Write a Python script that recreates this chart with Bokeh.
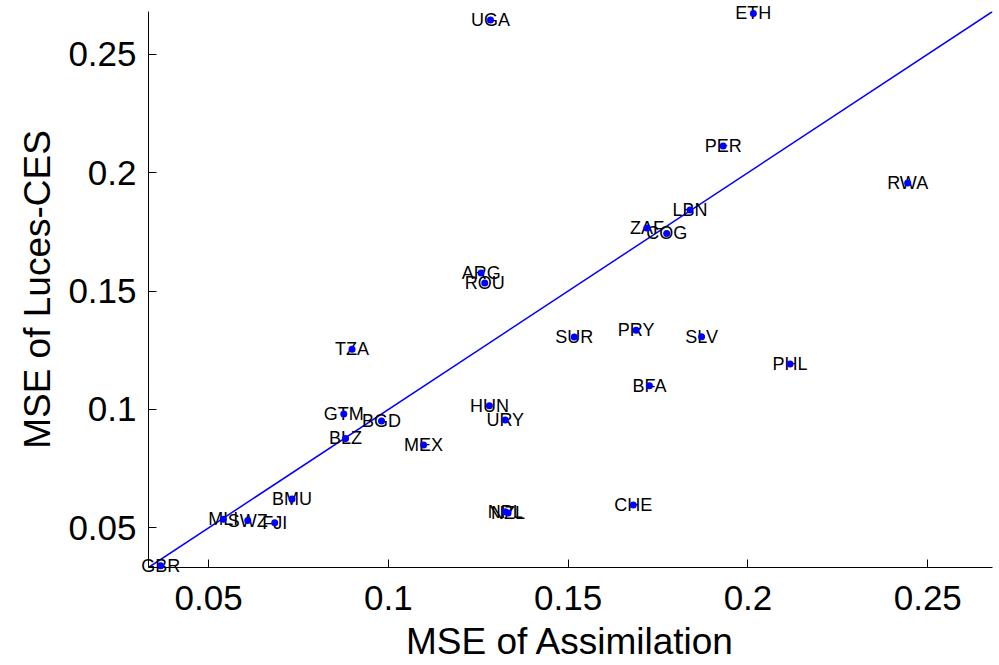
from bokeh.plotting import figure
from bokeh.models import ColumnDataSource, Range1d, FixedTicker
from bokeh.core.properties import value
from bokeh.embed import file_html
from bokeh.resources import INLINE

countries = ["UGA", "ETH", "PER", "RWA", "LBN", "ZAF", "COG", "ARG", "ROU", "SUR",
             "PRY", "SLV", "PHL", "BFA", "TZA", "HUN", "URY", "GTM", "BGD", "BLZ",
             "MEX", "BMU", "MLI", "SWZ", "FJI", "NPL", "NZL", "CHE", "GBR"]
mse_assim = [0.1284, 0.2015, 0.1931, 0.2444, 0.1839, 0.1719, 0.1774, 0.1258, 0.1268, 0.1517,
             0.1689, 0.1871, 0.2117, 0.1726, 0.0899, 0.1281, 0.1325, 0.0876, 0.0981, 0.0881,
             0.1098, 0.0732, 0.0541, 0.0609, 0.0684, 0.1325, 0.1333, 0.1681, 0.0367]
mse_luces = [0.2644, 0.2672, 0.2112, 0.1956, 0.1842, 0.1766, 0.1743, 0.1576, 0.1534, 0.1306,
             0.1335, 0.1307, 0.1192, 0.1100, 0.1254, 0.1016, 0.0956, 0.0981, 0.0951, 0.0878,
             0.0850, 0.0622, 0.0537, 0.0531, 0.0522, 0.0568, 0.0563, 0.0597, 0.0340]
axis_limits = [0.0333, 0.268]
tick_values = [0.05, 0.1, 0.15, 0.2, 0.25]
tick_labels = ["0.05", "0.1", "0.15", "0.2", "0.25"]

src = ColumnDataSource(dict(x=mse_assim, y=mse_luces, name=countries))

p = figure(width=999, height=665, output_backend="svg", toolbar_location=None,
           x_range=Range1d(*axis_limits), y_range=Range1d(*axis_limits),
           min_border_left=148, min_border_right=7, min_border_top=11, min_border_bottom=98)
p.background_fill_color = "white"
p.border_fill_color = "white"
p.outline_line_color = None
p.xgrid.visible = False
p.ygrid.visible = False

FONT = "Liberation Sans"
for ax in (p.xaxis[0], p.yaxis[0]):
    ax.ticker = FixedTicker(ticks=tick_values)
    ax.major_label_overrides = {v: l for v, l in zip(tick_values, tick_labels)}
    ax.major_tick_in = 8
    ax.major_tick_out = 0
    ax.minor_tick_line_color = None
    ax.axis_line_color = "black"
    ax.major_tick_line_color = "black"
    ax.major_label_text_font = FONT
    ax.major_label_text_font_size = "35px"
    ax.major_label_text_color = "black"
    ax.axis_label_text_font = FONT
    ax.axis_label_text_font_size = "37px"
    ax.axis_label_text_font_style = "normal"
    ax.axis_label_text_color = "black"

p.xaxis.axis_label = "MSE of Assimilation"
p.yaxis.axis_label = "MSE of Luces-CES"
p.xaxis.major_label_standoff = 18
p.yaxis.major_label_standoff = 12
p.xaxis.axis_label_standoff = 8
p.yaxis.axis_label_standoff = 7

p.line(x=axis_limits, y=axis_limits, line_color="blue", line_width=1.5)
p.text(x="x", y="y", text="name", source=src, text_font=value(FONT),
       text_font_size="18px", text_color="black", text_align="center",
       text_baseline="middle", level="overlay")
p.scatter(x="x", y="y", source=src, size=7, fill_color="blue", line_color=None,
          level="overlay")

open("out.html", "w").write(file_html(p, INLINE))
